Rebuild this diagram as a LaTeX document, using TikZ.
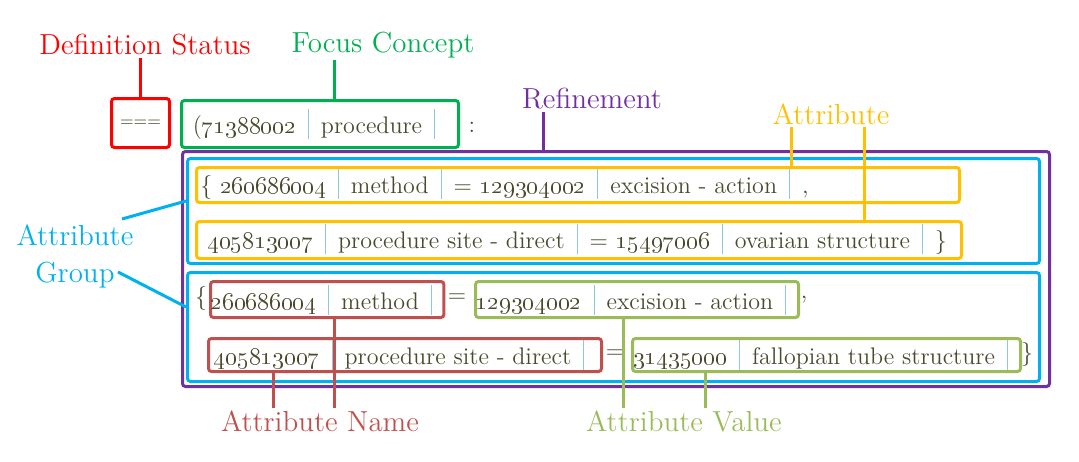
\documentclass[tikz,border=0pt]{standalone}
\usepackage{xcolor}
\usetikzlibrary{positioning}
\definecolor{defred}{HTML}{FF0000}
\definecolor{focusgreen}{HTML}{00B050}
\definecolor{refpurple}{HTML}{7030A0}
\definecolor{attgold}{HTML}{FFC000}
\definecolor{grpblue}{HTML}{00B0F0}
\definecolor{namered}{HTML}{C0504D}
\definecolor{valgreen}{HTML}{9BBB59}
\definecolor{txtolive}{HTML}{4A4A2E}
\definecolor{sepblue}{HTML}{8EC8E8}
\newcommand{\vsep}{\enspace\textcolor{sepblue}{\rule[-0.5ex]{0.5pt}{2.9ex}}\enspace}
\newcommand{\osn}[1]{\oldstylenums{#1}}
\tikzset{
    exprbox/.style={draw, line width=1.5pt, rounded corners=1.5pt, anchor=north west, inner sep=0pt},
    exprtext/.style={text=txtolive, font=\fontsize{12}{14}\selectfont, inner sep=0pt},
    calllabel/.style={font=\fontsize{14.5}{18.5}\selectfont, inner sep=1pt, align=center},
    callline/.style={line width=1.5pt}
}
\begin{document}
\begin{tikzpicture}[x=0.5pt, y=-0.5pt]
    \useasboundingbox (0,0) rectangle (1079,461);
    % definition status and focus concept
    \node[exprbox, exprtext, draw=defred, minimum width=29pt, minimum height=24.5pt, font=\fontsize{8.5}{10}\selectfont] (defbox) at (110,97) {={}={}=};
    \node[exprbox, exprtext, draw=focusgreen, minimum width=138.5pt, minimum height=23.5pt] (focusbox) at (180,99) {(\osn{71388002}\vsep procedure\vsep};
    \node[exprtext] (colon) at (472,127) {:};
    % refinement with two attribute groups
    \node[exprbox, draw=refpurple, minimum width=433.5pt, minimum height=117.5pt] (refbox) at (181,150) {};
    \node[exprbox, draw=grpblue, minimum width=426pt, minimum height=52.5pt] (grpone) at (186,157) {};
    \node[exprbox, draw=grpblue, minimum width=426pt, minimum height=54.5pt] (grptwo) at (186,271) {};
    % first group: whole attributes
    \node[exprbox, draw=attgold, minimum width=381.5pt, minimum height=17.5pt] (attone) at (195,166) {};
    \node[exprbox, draw=attgold, minimum width=382.5pt, minimum height=18.5pt] (atttwo) at (195,220) {};
    \node[exprtext, anchor=west] (attonetext) at (200,184) {\{ \osn{260686004}\vsep method\vsep = \osn{129304002}\vsep excision - action\vsep ,};
    \node[exprtext, anchor=west] (atttwotext) at (207,239) {\osn{405813007}\vsep procedure site - direct\vsep = \osn{15497006}\vsep ovarian structure\vsep \}};
    % second group: names and values
    \node[exprtext] (lbrace) at (201,298) {\{};
    \node[exprbox, exprtext, draw=namered, minimum width=115.5pt, minimum height=18pt] (nameone) at (209,280) {\osn{260686004}\vsep method\vsep};
    \node[exprtext] (eqone) at (457,298) {=};
    \node[exprbox, exprtext, draw=valgreen, minimum width=161.5pt, minimum height=18pt] (valone) at (474,280) {\osn{129304002}\vsep excision - action\vsep};
    \node[exprtext] (comma) at (804,300) {,};
    \node[exprbox, exprtext, draw=namered, minimum width=196.5pt, minimum height=16.5pt] (nametwo) at (207,337) {\osn{405813007}\vsep procedure site - direct\vsep};
    \node[exprtext] (eqtwo) at (615,354) {=};
    \node[exprbox, exprtext, draw=valgreen, minimum width=194pt, minimum height=16.5pt] (valtwo) at (631,337) {\osn{31435000}\vsep fallopian tube structure\vsep};
    \node[exprtext] (rbrace) at (1027,354) {\}};
    % call-out labels
    \node[calllabel, text=defred] (deflabel) at (145,45) {Definition Status};
    \node[calllabel, text=focusgreen] (focuslabel) at (383,45) {Focus Concept};
    \node[calllabel, text=refpurple] (reflabel) at (592,99) {Refinement};
    \node[calllabel, text=attgold] (attlabel) at (831,114) {Attribute};
    \node[calllabel, text=grpblue] (grplabel) at (75,256) {Attribute\\Group};
    \node[calllabel, text=namered] (namelabel) at (320,421) {Attribute Name};
    \node[calllabel, text=valgreen] (vallabel) at (684,421) {Attribute Value};
    \coordinate (focustick) at (334,99);
    \coordinate (reftick) at (543,150);
    \coordinate (atttickone) at (791,166);
    \coordinate (attticktwo) at (864,220);
    \coordinate (grptickone) at (186,201);
    \coordinate (grpticktwo) at (186,307);
    \coordinate (nametickone) at (334,316);
    \coordinate (nameticktwo) at (273,370);
    \coordinate (valtickone) at (623,316);
    \coordinate (valticktwo) at (705,370);
    \draw[callline, defred] (defbox.north) -- (defbox.north |- deflabel.south);
    \draw[callline, focusgreen] (focustick) -- (focustick |- focuslabel.south);
    \draw[callline, refpurple] (reftick) -- (reftick |- reflabel.south);
    \draw[callline, attgold] (atttickone) -- (atttickone |- attlabel.south);
    \draw[callline, attgold] (attticktwo) -- (attticktwo |- attlabel.south);
    \draw[callline, grpblue] (grptickone) -- (122,219);
    \draw[callline, grpblue] (grpticktwo) -- (118,272);
    \draw[callline, namered] (nametickone) -- (nametickone |- namelabel.north);
    \draw[callline, namered] (nameticktwo) -- (nameticktwo |- namelabel.north);
    \draw[callline, valgreen] (valtickone) -- (valtickone |- vallabel.north);
    \draw[callline, valgreen] (valticktwo) -- (valticktwo |- vallabel.north);
\end{tikzpicture}
\end{document}
